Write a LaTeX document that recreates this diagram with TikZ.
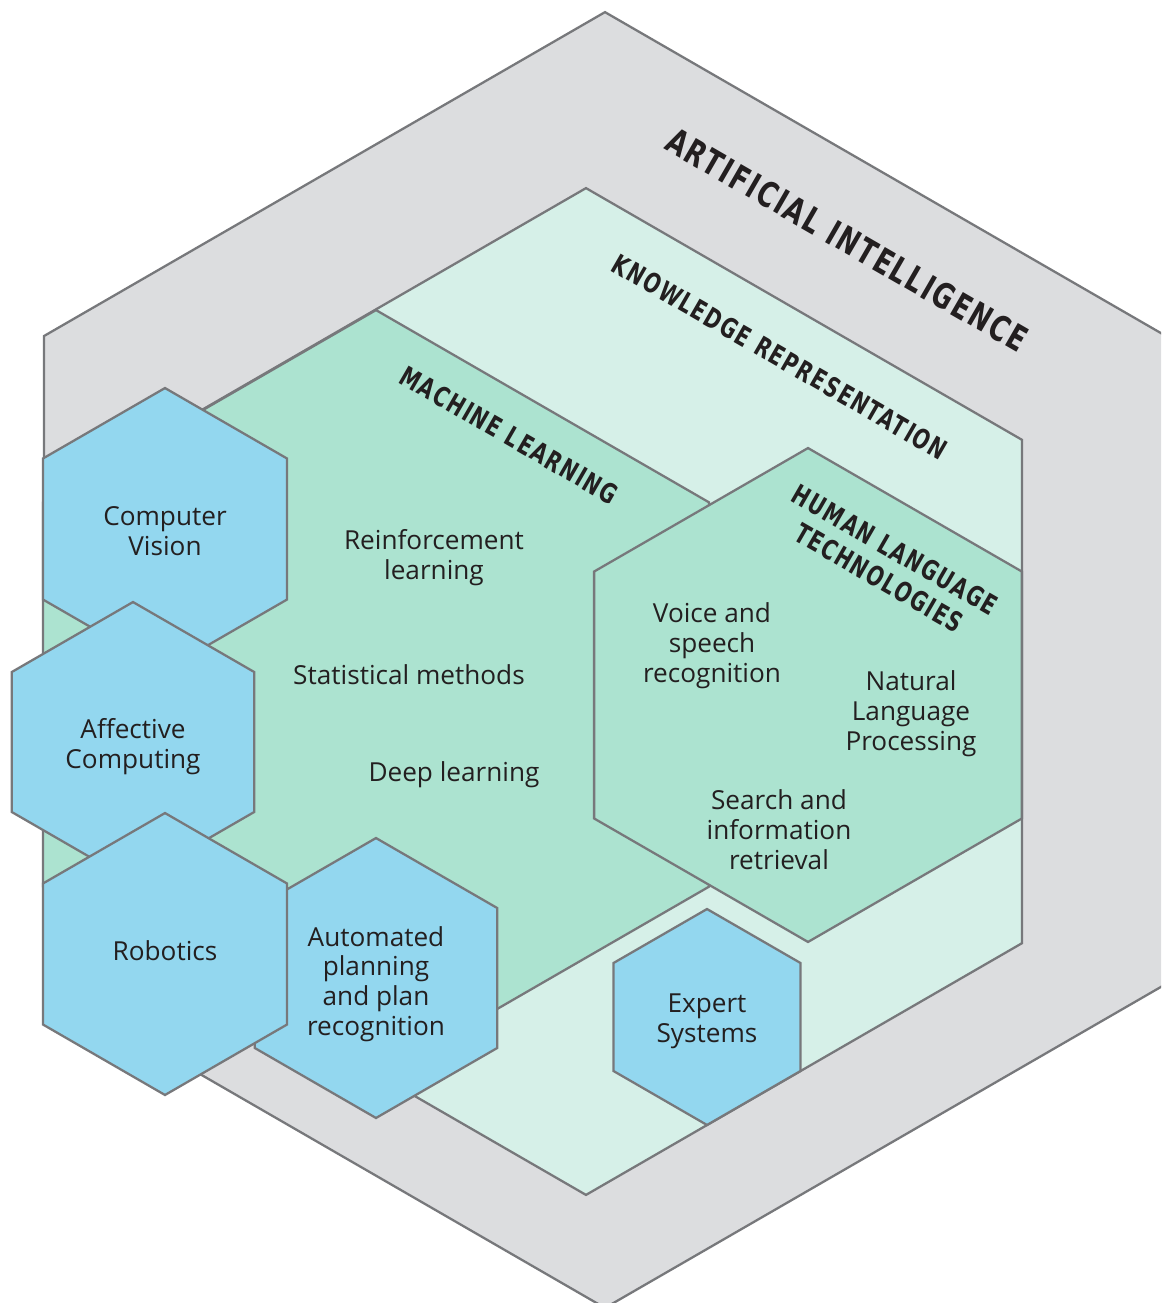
\documentclass[tikz,border=0pt]{standalone}
\usepackage{fontspec}
\setmainfont{Open Sans}
\newfontfamily\headfont[FakeStretch=0.72,LetterSpace=6]{DejaVu Sans}
\usetikzlibrary{shapes.geometric}
\definecolor{aigray}{HTML}{DCDDDF}
\definecolor{krmint}{HTML}{D6F0E8}
\definecolor{mlgreen}{HTML}{ACE3D0}
\definecolor{hexblue}{HTML}{93D7EF}
\definecolor{edgegray}{HTML}{77787B}
\definecolor{inkblack}{HTML}{231F20}
\tikzset{
	hexa/.style={regular polygon, regular polygon sides=6, shape border rotate=30, inner sep=0pt, draw=edgegray, line width=1.3pt},
	field/.style={hexa, fill=#1},
	area/.style={font=\headfont\bfseries\fontsize{15.6}{18.4}\selectfont, text=inkblack, rotate=-30, align=center},
	topic/.style={font=\fontsize{14.9}{17}\selectfont, text=inkblack, align=center}
}

\begin{document}
\begin{tikzpicture}[x=0.02cm, y=-0.02cm]
		\clip (0,0) rectangle (1161,1303);
		\fill[white] (0,0) rectangle (1161,1303);

		\node[field=aigray, minimum size=25.92cm] (ai) at (605,660) {};
		\node[field=krmint, minimum size=20.14cm] (kr) at (586,691.5) {};
		\node[field=mlgreen, minimum size=15.38cm] (ml) at (376,694.5) {};
		\node[field=mlgreen, minimum size=9.88cm] (hlt) at (808,695) {};

		\node[area, font=\headfont\bfseries\fontsize{20}{23}\selectfont] (aititle) at (847,240) {ARTIFICIAL INTELLIGENCE};
		\node[area] (krtitle) at (780,357) {KNOWLEDGE REPRESENTATION};
		\node[area] (mltitle) at (509,435) {MACHINE LEARNING};
		\node[area] (hlttitle) at (887,564) {HUMAN LANGUAGE\\TECHNOLOGIES};

		\node[topic] (reinf) at (434,558) {Reinforcement\\learning};
		\node[topic] (stat) at (409,675) {Statistical methods};
		\node[topic] (deep) at (454,775) {Deep learning};
		\node[topic] (voice) at (712,646) {Voice and\\speech\\recognition};
		\node[topic] (nlp) at (911,714) {Natural\\Language\\Processing};
		\node[topic] (search) at (779,830) {Search and\\information\\retrieval};

		\node[field=hexblue, minimum size=5.64cm] (cv) at (165,529) {};
		\node[topic] (cvtext) at (165,531) {Computer\\Vision};
		\node[field=hexblue, minimum size=5.6cm] (ac) at (133,742) {};
		\node[topic] (actext) at (133,747) {Affective\\Computing};
		\node[field=hexblue, minimum size=5.6cm] (ap) at (376,978) {};
		\node[topic] (aptext) at (376,984) {Automated\\planning\\and plan\\recognition};
		\node[field=hexblue, minimum size=5.64cm] (rob) at (165,954) {};
		\node[topic] (robtext) at (165,951) {Robotics};
		\node[field=hexblue, minimum size=4.32cm] (es) at (707,1017) {};
		\node[topic] (estext) at (707,1021) {Expert\\Systems};
	\end{tikzpicture}
\end{document}
